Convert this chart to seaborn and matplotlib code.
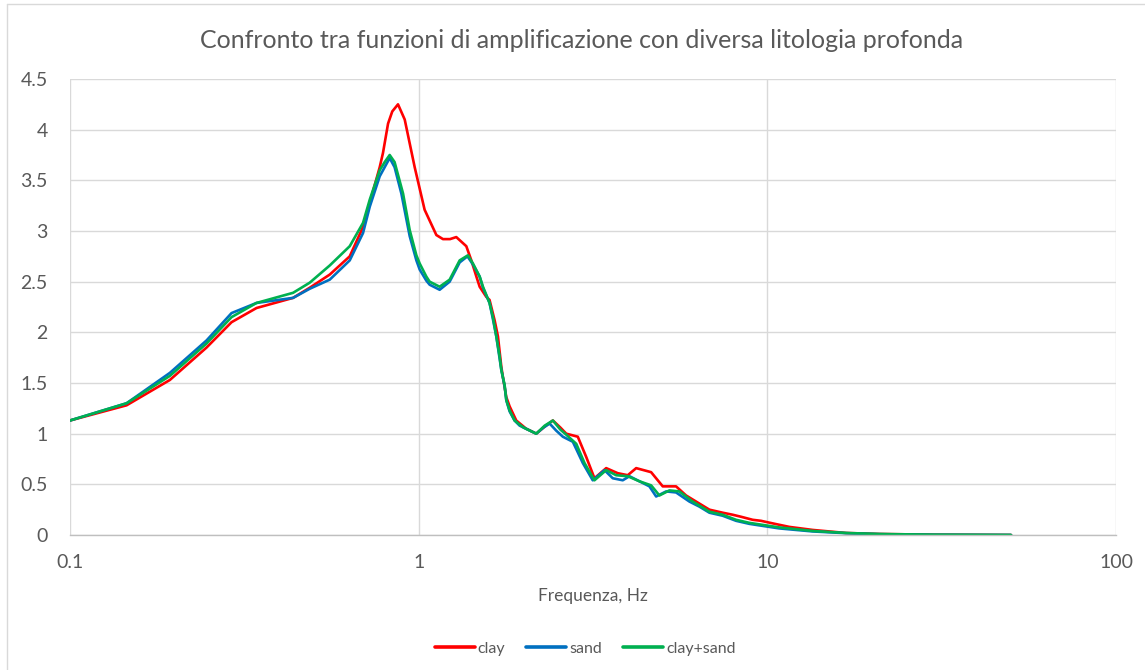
import numpy as np
import pandas as pd
import matplotlib
matplotlib.use("Agg")
import matplotlib.pyplot as plt
from matplotlib.ticker import FixedLocator, FixedFormatter, NullLocator
from matplotlib.lines import Line2D
import seaborn as sns

# Amplification functions (frequency in Hz, amplitude ratio)
clay_freq = [0.1, 0.1453, 0.1934, 0.2464, 0.2906, 0.3427, 0.4363, 0.487, 0.5559,
             0.6343, 0.6925, 0.7732, 0.790, 0.817, 0.840, 0.8724, 0.912, 0.974,
             1.040, 1.124, 1.174, 1.23, 1.282, 1.3697, 1.416, 1.464, 1.496, 1.563,
             1.597, 1.651, 1.688, 1.726, 1.744, 1.784, 1.823, 1.905, 2.032, 2.174,
             2.30, 2.426, 2.55, 2.650, 2.860, 3.024, 3.193, 3.450, 3.724, 3.978,
             4.206, 4.642, 5.012, 5.473, 5.848, 6.385, 6.821, 7.447, 7.954, 8.406,
             9.077, 9.59, 10.35, 11.56, 13.49, 16.81, 20.94, 30.0, 50.0]
clay_amp = [1.13, 1.28, 1.53, 1.85, 2.10, 2.24, 2.34, 2.44, 2.57,
            2.75, 3.04, 3.63, 3.77, 4.06, 4.18, 4.25, 4.10, 3.63,
            3.21, 2.96, 2.92, 2.92, 2.94, 2.85, 2.71, 2.55, 2.45, 2.35,
            2.32, 2.12, 1.96, 1.66, 1.56, 1.36, 1.27, 1.13, 1.05, 1.00,
            1.07, 1.13, 1.06, 1.00, 0.97, 0.77, 0.56, 0.66, 0.61, 0.59,
            0.66, 0.62, 0.48, 0.48, 0.39, 0.31, 0.25, 0.22, 0.20, 0.18,
            0.15, 0.14, 0.115, 0.08, 0.05, 0.02, 0.01, 0.003, 0.0]

sand_freq = [0.1, 0.1453, 0.1934, 0.2464, 0.2906, 0.3427, 0.4363, 0.487, 0.5559,
             0.6343, 0.6925, 0.724, 0.7732, 0.799, 0.8258, 0.853, 0.892, 0.9424,
             0.985, 1.0066, 1.052, 1.0752, 1.1486, 1.227, 1.311, 1.38, 1.431, 1.496,
             1.529, 1.597, 1.633, 1.670, 1.707, 1.726, 1.764, 1.784, 1.823, 1.884,
             1.947, 2.0, 2.174, 2.28, 2.374, 2.48, 2.591, 2.768, 2.957, 3.157,
             3.412, 3.603, 3.849, 4.023, 4.297, 4.590, 4.798, 5.125, 5.473, 5.977,
             6.385, 6.821, 7.447, 8.134, 8.881, 9.69, 10.82, 13.49, 16.81, 20.94,
             30.0, 50.0]
sand_amp = [1.13, 1.30, 1.60, 1.92, 2.19, 2.29, 2.34, 2.43, 2.52,
            2.71, 2.98, 3.24, 3.54, 3.63, 3.72, 3.63, 3.37, 2.95,
            2.71, 2.62, 2.51, 2.47, 2.42, 2.50, 2.69, 2.75, 2.67, 2.55,
            2.44, 2.29, 2.13, 1.96, 1.74, 1.63, 1.47, 1.33, 1.22, 1.13,
            1.08, 1.06, 1.00, 1.06, 1.10, 1.03, 0.97, 0.92, 0.71, 0.54,
            0.64, 0.56, 0.54, 0.58, 0.53, 0.48, 0.38, 0.43, 0.42, 0.33,
            0.28, 0.22, 0.19, 0.14, 0.11, 0.09, 0.065, 0.035, 0.018, 0.008,
            0.002, 0.0]

mix_freq = [0.1, 0.1453, 0.1934, 0.2464, 0.2906, 0.3427, 0.4363, 0.487, 0.5559,
            0.6343, 0.6925, 0.724, 0.7732, 0.799, 0.8258, 0.853, 0.902, 0.9424,
            0.985, 1.0066, 1.052, 1.0752, 1.1486, 1.227, 1.311, 1.384, 1.431, 1.496,
            1.529, 1.597, 1.633, 1.670, 1.707, 1.726, 1.764, 1.784, 1.823, 1.884,
            1.947, 2.0, 2.174, 2.30, 2.426, 2.55, 2.650, 2.831, 2.990, 3.193,
            3.450, 3.685, 3.978, 4.297, 4.642, 4.903, 5.238, 5.595, 6.109, 6.821,
            7.447, 8.134, 8.881, 9.69, 10.82, 13.49, 16.81, 20.94, 30.0, 50.0]
mix_amp = [1.13, 1.30, 1.57, 1.89, 2.15, 2.29, 2.39, 2.49, 2.66,
           2.85, 3.08, 3.31, 3.60, 3.68, 3.75, 3.68, 3.37, 3.01,
           2.76, 2.68, 2.55, 2.50, 2.45, 2.52, 2.71, 2.76, 2.68, 2.55,
           2.45, 2.29, 2.15, 1.96, 1.76, 1.63, 1.48, 1.33, 1.23, 1.13,
           1.09, 1.06, 1.00, 1.08, 1.13, 1.04, 0.99, 0.90, 0.71, 0.54,
           0.64, 0.59, 0.58, 0.53, 0.49, 0.39, 0.44, 0.43, 0.33, 0.23,
           0.20, 0.15, 0.12, 0.10, 0.075, 0.04, 0.02, 0.01, 0.003, 0.0]

series_names = ["clay", "sand", "clay+sand"]
series_colors = ["#FF0000", "#0070C0", "#00B050"]

x_ticks = [0.1, 1, 10, 100]
x_tick_labels = ["0.1", "1", "10", "100"]
y_ticks = [0, 0.5, 1, 1.5, 2, 2.5, 3, 3.5, 4, 4.5]
y_tick_labels = ["0", "0.5", "1", "1.5", "2", "2.5", "3", "3.5", "4", "4.5"]

title_text = "Confronto tra funzioni di amplificazione con diversa litologia profonda"
x_label = "Frequenza, Hz"

df = pd.concat([
    pd.DataFrame({"freq": clay_freq, "amp": clay_amp, "serie": series_names[0]}),
    pd.DataFrame({"freq": sand_freq, "amp": sand_amp, "serie": series_names[1]}),
    pd.DataFrame({"freq": mix_freq, "amp": mix_amp, "serie": series_names[2]}),
], ignore_index=True)

sns.set_theme(style="white")
plt.rcParams["font.family"] = ["Lato", "DejaVu Sans"]

text_gray = "#595959"
grid_gray = "#D9D9D9"

fig = plt.figure(figsize=(11.45, 6.70), dpi=100)
ax = fig.add_axes([70 / 1145, 1 - 535 / 670, (1116 - 70) / 1145, (535 - 79) / 670])

palette = dict(zip(series_names, series_colors))
sns.lineplot(data=df, x="freq", y="amp", hue="serie", palette=palette,
             hue_order=series_names, estimator=None, sort=False,
             linewidth=1.9, ax=ax, legend=False)
for line in ax.get_lines():
    line.set_solid_joinstyle("round")
    line.set_solid_capstyle("round")

ax.set_xscale("log")
ax.set_xlim(0.1, 100)
ax.set_ylim(0, 4.5)
ax.xaxis.set_major_locator(FixedLocator(x_ticks))
ax.xaxis.set_major_formatter(FixedFormatter(x_tick_labels))
ax.xaxis.set_minor_locator(NullLocator())
ax.yaxis.set_major_locator(FixedLocator(y_ticks))
ax.yaxis.set_major_formatter(FixedFormatter(y_tick_labels))

ax.grid(True, which="major", color=grid_gray, linewidth=1.0)
ax.set_axisbelow(True)
for side in ["top", "right", "left"]:
    ax.spines[side].set_visible(False)
ax.spines["bottom"].set_color("#BFBFBF")
ax.spines["bottom"].set_linewidth(1.0)

ax.tick_params(axis="both", length=0, labelsize=14, colors=text_gray)
ax.tick_params(axis="y", pad=16)
ax.tick_params(axis="x", pad=14)
ax.set_xlabel(x_label, fontsize=12.5, color=text_gray, labelpad=12)
ax.set_ylabel("")

fig.text(0.508, 1 - 40 / 670, title_text, ha="center", va="center",
         fontsize=18, color=text_gray)

handles = [Line2D([0], [0], color=c, linewidth=2.6) for c in series_colors]
fig.legend(handles, series_names, loc="center", bbox_to_anchor=(0.511, 1 - 649 / 670),
           ncol=3, frameon=False, fontsize=11.5, labelcolor=text_gray,
           handlelength=2.5, handletextpad=0.2, columnspacing=1.3)

# chart area border
fig.add_artist(Line2D([7 / 1145, 7 / 1145], [0, 1 - 4 / 670], color="#D9D9D9",
                      linewidth=1.0, transform=fig.transFigure))
fig.add_artist(Line2D([7 / 1145, 1], [1 - 4 / 670, 1 - 4 / 670], color="#D9D9D9",
                      linewidth=1.0, transform=fig.transFigure))

fig.savefig("out.png", dpi=100, facecolor="white")
